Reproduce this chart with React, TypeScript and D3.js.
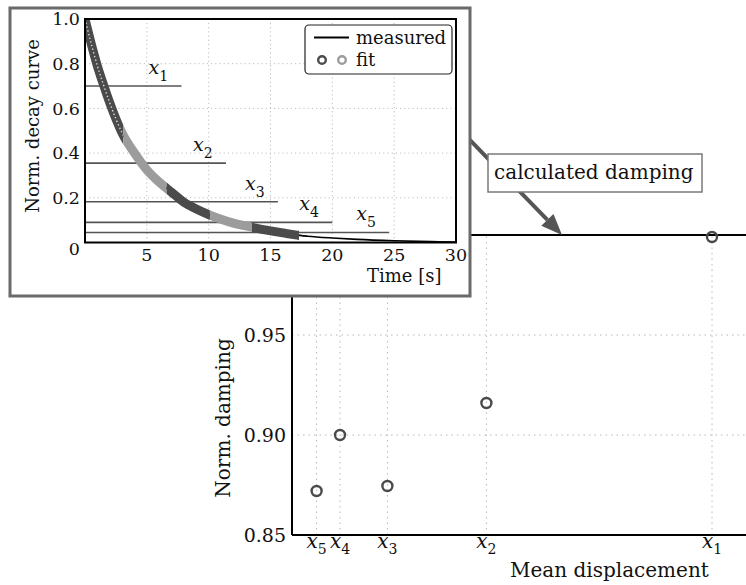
import * as d3 from 'd3'

// main chart: damping vs mean displacement
const windowLabels = ['1', '2', '3', '4', '5']
const meanDisplacement = [0.7, 0.324, 0.159, 0.08, 0.041]
const normDamping = [0.999, 0.916, 0.8745, 0.9, 0.872]
const dampingTicks = [0.85, 0.9, 0.95]
const calculatedDamping = 1.0

// inset: decay curve
const decayTime = [0, 0.5, 1, 1.5, 2, 3, 4, 5, 6, 7, 8, 9, 10, 11, 12, 13, 14, 15, 16, 17, 18, 20, 22, 25, 28, 30]
const decayValue = [1.0, 0.89, 0.79, 0.705, 0.625, 0.49, 0.4, 0.325, 0.27, 0.225, 0.18, 0.15, 0.125, 0.104, 0.087, 0.074, 0.062, 0.052, 0.043, 0.034, 0.028, 0.02, 0.014, 0.008, 0.004, 0.002]
// fit windows along the curve (start, end in seconds), alternating tones
const fitStart = [0, 3.1, 6.6, 10.1, 13.5]
const fitEnd = [3.1, 6.6, 10.1, 13.5, 17.3]
const fitTone = ['dark', 'light', 'dark', 'light', 'dark']
// horizontal window levels x1..x5
const windowLevel = [0.7, 0.355, 0.182, 0.09, 0.045]
const windowEnd = [7.8, 11.4, 15.6, 20, 24.6]
const timeTicks = [5, 10, 15, 20, 25, 30]
const decayTicks = [0.2, 0.4, 0.6, 0.8, 1.0]

const W = 746
const H = 585
const serif = 'DejaVu Serif, serif'
const DARK = '#4b4b4b'
const LIGHT = '#9c9c9c'

export default function App() {
  // main scales
  const x = d3.scaleLinear().domain([0, 0.8]).range([292, 772])
  const y = d3.scaleLinear().domain([0.85, 1.0]).range([535, 235])

  // inset scales
  const ix = d3.scaleLinear().domain([0, 30]).range([85, 456])
  const iy = d3.scaleLinear().domain([0, 1]).range([242.5, 19])

  const decay = decayTime.map((t, i) => [t, decayValue[i]] as [number, number])
  const line = d3
    .line<[number, number]>()
    .x((d) => ix(d[0]))
    .y((d) => iy(d[1]))
    .curve(d3.curveMonotoneX)
  const fitData = decay.filter((d) => d[0] <= 18)

  // arrow into the calculated damping line
  const tipX = x(0.45)
  const tipY = y(calculatedDamping)
  const ux = 0.696
  const uy = 0.718
  const headLen = 21
  const headHalf = 8.5
  const baseX = tipX - ux * headLen
  const baseY = tipY - uy * headLen
  const startX = tipX - ux * 170
  const startY = tipY - uy * 170

  return (
    <div style={{ position: 'absolute', left: 0, top: 0 }}>
      <svg width={W} height={H} style={{ display: 'block', background: '#fff' }}>
        <defs>
          {fitStart.map((s, i) => (
            <clipPath id={'fit' + i} key={i}>
              <rect x={ix(s)} y={0} width={ix(fitEnd[i]) - ix(s)} height={H} />
            </clipPath>
          ))}
        </defs>

        {/* ---- main chart ---- */}
        <g>
          {meanDisplacement.map((v, i) => (
            <line key={'gx' + i} x1={x(v)} x2={x(v)} y1={y(0.85)} y2={y(1.0)} stroke="#b8b8b8" strokeWidth={1} strokeDasharray="1.5 4" />
          ))}
          {dampingTicks.slice(1).map((v, i) => (
            <line key={'gy' + i} x1={x(0)} x2={W} y1={y(v)} y2={y(v)} stroke="#b8b8b8" strokeWidth={1} strokeDasharray="1.5 4" />
          ))}
          <line x1={x(0)} x2={W} y1={y(1.0)} y2={y(1.0)} stroke="#000" strokeWidth={2} />
          <line x1={x(0)} x2={W} y1={y(0.85)} y2={y(0.85)} stroke="#000" strokeWidth={2} />
          <line x1={x(0)} x2={x(0)} y1={y(0.85)} y2={y(1.0)} stroke="#000" strokeWidth={2} />
          {dampingTicks.map((v) => (
            <text key={'ty' + v} x={286} y={y(v)} dy="0.36em" textAnchor="end" fontFamily={serif} fontSize={19} fill="#111">
              {d3.format('.2f')(v)}
            </text>
          ))}
          {meanDisplacement.map((v, i) => (
            <text key={'tx' + i} x={x(v)} y={548} textAnchor="middle" fontFamily={serif} fontSize={20} fill="#111">
              <tspan fontStyle="italic">x</tspan>
              <tspan fontSize={14} dy={6}>{windowLabels[i]}</tspan>
            </text>
          ))}
          <text x={510} y={577} fontFamily={serif} fontSize={20} fill="#111">Mean displacement</text>
          <text transform={`translate(230,418) rotate(-90)`} textAnchor="middle" fontFamily={serif} fontSize={20} fill="#111">
            Norm. damping
          </text>
          {meanDisplacement.map((v, i) => (
            <circle key={'p' + i} cx={x(v)} cy={y(normDamping[i])} r={5} fill="none" stroke="#4a4a4a" strokeWidth={2.4} />
          ))}
        </g>

        {/* ---- annotation arrow and box ---- */}
        <line x1={startX} y1={startY} x2={baseX} y2={baseY} stroke="#555" strokeWidth={4} />
        <path
          d={`M${tipX},${tipY} L${baseX - uy * headHalf},${baseY + ux * headHalf} L${baseX + uy * headHalf},${baseY - ux * headHalf} Z`}
          fill="#555"
        />
        <rect x={488} y={154} width={214} height={38} fill="#fff" stroke="#7a7a7a" strokeWidth={1.5} />
        <text x={494} y={179} fontFamily={serif} fontSize={20} fill="#111">calculated damping</text>

        {/* ---- inset ---- */}
        <rect x={10} y={8} width={460} height={288} fill="#fff" stroke="#6a6a6a" strokeWidth={3} />
        <g>
          {timeTicks.slice(0, -1).map((t) => (
            <line key={'igx' + t} x1={ix(t)} x2={ix(t)} y1={iy(0)} y2={iy(1)} stroke="#bdbdbd" strokeWidth={1} strokeDasharray="1.2 3" />
          ))}
          {decayTicks.slice(0, -1).map((v) => (
            <line key={'igy' + v} x1={ix(0)} x2={ix(30)} y1={iy(v)} y2={iy(v)} stroke="#bdbdbd" strokeWidth={1} strokeDasharray="1.2 3" />
          ))}
          {windowLevel.map((v, i) => (
            <g key={'w' + i}>
              <line x1={ix(0)} x2={ix(windowEnd[i])} y1={iy(v)} y2={iy(v)} stroke="#555" strokeWidth={1.6} />
              <text x={ix(windowEnd[i]) - 33} y={iy(v) - 12} fontFamily={serif} fontSize={19} fill="#111">
                <tspan fontStyle="italic">x</tspan>
                <tspan fontSize={14} dy={7}>{windowLabels[i]}</tspan>
              </text>
            </g>
          ))}
          <path d={line(decay) || ''} fill="none" stroke="#000" strokeWidth={1.6} />
          {fitStart.map((s, i) => (
            <path
              key={'f' + i}
              d={line(fitData) || ''}
              clipPath={`url(#fit${i})`}
              fill="none"
              stroke={fitTone[i] === 'dark' ? DARK : LIGHT}
              strokeWidth={9}
              strokeLinecap="butt"
            />
          ))}
          <path
            d={line(fitData) || ''}
            clipPath="url(#fit0)"
            fill="none"
            stroke="#d8d8d8"
            strokeWidth={1.4}
            strokeDasharray="1.4 2.4"
          />
          <rect x={ix(0)} y={iy(1)} width={ix(30) - ix(0)} height={iy(0) - iy(1)} fill="none" stroke="#000" strokeWidth={2} />
          {timeTicks.map((t) => (
            <text key={'itx' + t} x={ix(t)} y={261} textAnchor="middle" fontFamily={serif} fontSize={17.5} fill="#111">
              {t}
            </text>
          ))}
          {decayTicks.map((v) => (
            <text key={'ity' + v} x={80} y={iy(v)} dy="0.36em" textAnchor="end" fontFamily={serif} fontSize={17.5} fill="#111">
              {d3.format('.1f')(v)}
            </text>
          ))}
          <text x={80} y={iy(0) + 6} dy="0.36em" textAnchor="end" fontFamily={serif} fontSize={17.5} fill="#111">0</text>
          <text x={367} y={282} fontFamily={serif} fontSize={18} fill="#111">Time [s]</text>
          <text transform={`translate(39,126) rotate(-90)`} textAnchor="middle" fontFamily={serif} fontSize={18} fill="#111">
            Norm. decay curve
          </text>

          {/* legend */}
          <rect x={305} y={25} width={147} height={49} rx={4} fill="#fff" stroke="#222" strokeWidth={1.2} />
          <line x1={314} x2={349} y1={37.5} y2={37.5} stroke="#000" strokeWidth={2} />
          <text x={356} y={44} fontFamily={serif} fontSize={18} fill="#111">measured</text>
          <circle cx={322} cy={60} r={3.8} fill="#fff" stroke={DARK} strokeWidth={2.4} />
          <circle cx={342} cy={60} r={3.8} fill="#fff" stroke={LIGHT} strokeWidth={2.4} />
          <text x={356} y={66} fontFamily={serif} fontSize={18} fill="#111">fit</text>
        </g>
      </svg>
    </div>
  )
}
